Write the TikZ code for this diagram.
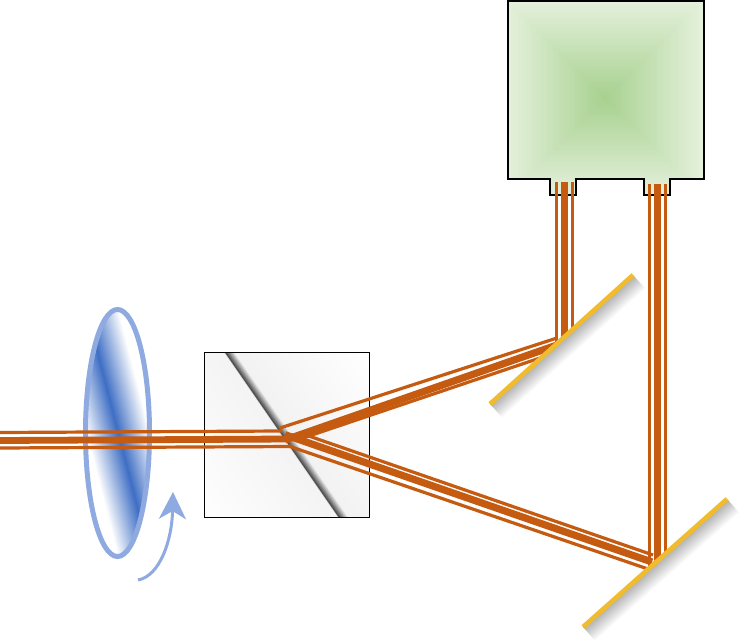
\documentclass[tikz,border=0pt]{standalone}
\usetikzlibrary{arrows.meta}
\definecolor{beamcol}{RGB}{197,90,17}
\definecolor{lenscol}{RGB}{142,170,224}
\definecolor{lensblue}{RGB}{62,110,196}
\definecolor{mirrorcol}{RGB}{240,188,45}
\definecolor{greenin}{RGB}{168,209,144}
\definecolor{greenout}{RGB}{229,241,220}
\pgfdeclarehorizontalshading{cubeband}{100bp}{
  rgb(0bp)=(1,1,1); rgb(25bp)=(1,1,1); rgb(49.9bp)=(.955,.955,.955);
  rgb(50.1bp)=(.27,.27,.27); rgb(51.7bp)=(.95,.95,.95);
  rgb(75bp)=(1,1,1); rgb(100bp)=(1,1,1)}
\tikzset{
  x=1pt,y=-1pt,
  thinbeam/.style={draw=beamcol,line width=3.2pt},
  thickbeam/.style={draw=beamcol,line width=6.8pt},
  slantthick/.style={draw=beamcol,line width=7.2pt},
  mirrorline/.style={draw=mirrorcol,line width=4.6pt},
  mirrorshadow/.style={top color=black!32,bottom color=white,draw=none},
  frameline/.style={draw=black,line width=1pt},
  boxline/.style={draw=black,line width=2pt,line join=miter},
}
\begin{document}
\begin{tikzpicture}
\useasboundingbox (0,0) rectangle (741,644);
\fill[white] (0,0) rectangle (741,644);
% detector box
\def\boxpath{(508,1) -- (704,1) -- (704,179.5) -- (670,179.5) -- (670,195) -- (644,195) -- (644,179.5) -- (576,179.5) -- (576,195) -- (549.5,195) -- (549.5,179.5) -- (508,179.5) -- cycle}
\begin{scope}
  \clip \boxpath;
  \fill[greenout] (500,0) rectangle (710,200);
  \foreach \i in {0,...,39}{
    \pgfmathsetmacro{\hw}{99*(1-\i/40)}
    \pgfmathsetmacro{\pct}{100*\i/39}
    \fill[greenin!\pct!greenout] (605-\hw,98-\hw) rectangle (605+\hw,98+\hw);
  }
\end{scope}
\draw[boxline] \boxpath;
% cube
\begin{scope}
  \clip (204.5,352.5) rectangle (369.5,517);
  \begin{scope}[transform canvas={shift={(281.5,435)},rotate=34.6}]
    \shade[shading=cubeband] (-120,-170) rectangle (120,170);
  \end{scope}
\end{scope}
\draw[frameline] (204.5,352.5) rectangle (369.5,517);
% wave plate
\coordinate (lensc) at (117.5,433);
\fill[white] (lensc) ellipse [x radius=32,y radius=123.5];
\begin{scope}
  \clip (lensc) ellipse [x radius=32,y radius=123.5];
  \begin{scope}[transform canvas={shift={(118,433)},rotate=14.4}]
    \shade[left color=white,right color=white,middle color=lensblue] (-31,-150) rectangle (31,150);
  \end{scope}
\end{scope}
\draw[draw=lenscol,line width=5pt] (lensc) ellipse [x radius=32,y radius=123.5];
% rotation arrow
\coordinate (arrowstart) at (138,580);
\coordinate (arrowend) at (173,492);
\draw[draw=lenscol,line width=3pt,-{Stealth[length=27pt,width=27pt,inset=8pt]}]
  (arrowstart) .. controls (160,576) and (172,540) .. (arrowend);
% incoming beam
\draw[thinbeam]  (0,432.5) -- (282,431);
\draw[thickbeam] (0,440.5) -- (290,439);
\draw[thinbeam]  (0,448) -- (292,446.5);
% reflected beam to first mirror
\draw[thinbeam]  (280,428) -- (557,338);
\draw[slantthick] (285,440) -- (557,345);
\draw[thinbeam]  (303,438) -- (540,358);
% transmitted beam to second mirror
\draw[thinbeam]  (303,434) -- (653,555);
\draw[slantthick] (285,434.7) -- (652,562);
\draw[thinbeam]  (288,445.8) -- (648,569);
% vertical beams
\draw[thinbeam]  (556.8,182) -- (556.8,344);
\draw[thickbeam] (564.3,182) -- (564.3,338);
\draw[thinbeam]  (572.3,182) -- (572.3,331);
\draw[thinbeam]  (649.8,184) -- (649.8,567);
\draw[thickbeam] (657.3,184) -- (657.3,561);
\draw[thinbeam]  (665.3,184) -- (665.3,554);
% mirrors
\coordinate (mia) at (490,404);
\coordinate (mib) at (633,275);
\coordinate (mjb) at (727,499);
\coordinate (mja) at (583,627);
\begin{scope}[transform canvas={shift={(mia)},rotate=42.06}]
  \shade[mirrorshadow] (0,0) rectangle (192.6,18);
\end{scope}
\draw[mirrorline] (mia) -- (mib);
\begin{scope}[transform canvas={shift={(mja)},rotate=41.63}]
  \shade[mirrorshadow] (0,0) rectangle (192.7,18);
\end{scope}
\draw[mirrorline] (mja) -- (mjb);
\end{tikzpicture}
\end{document}
